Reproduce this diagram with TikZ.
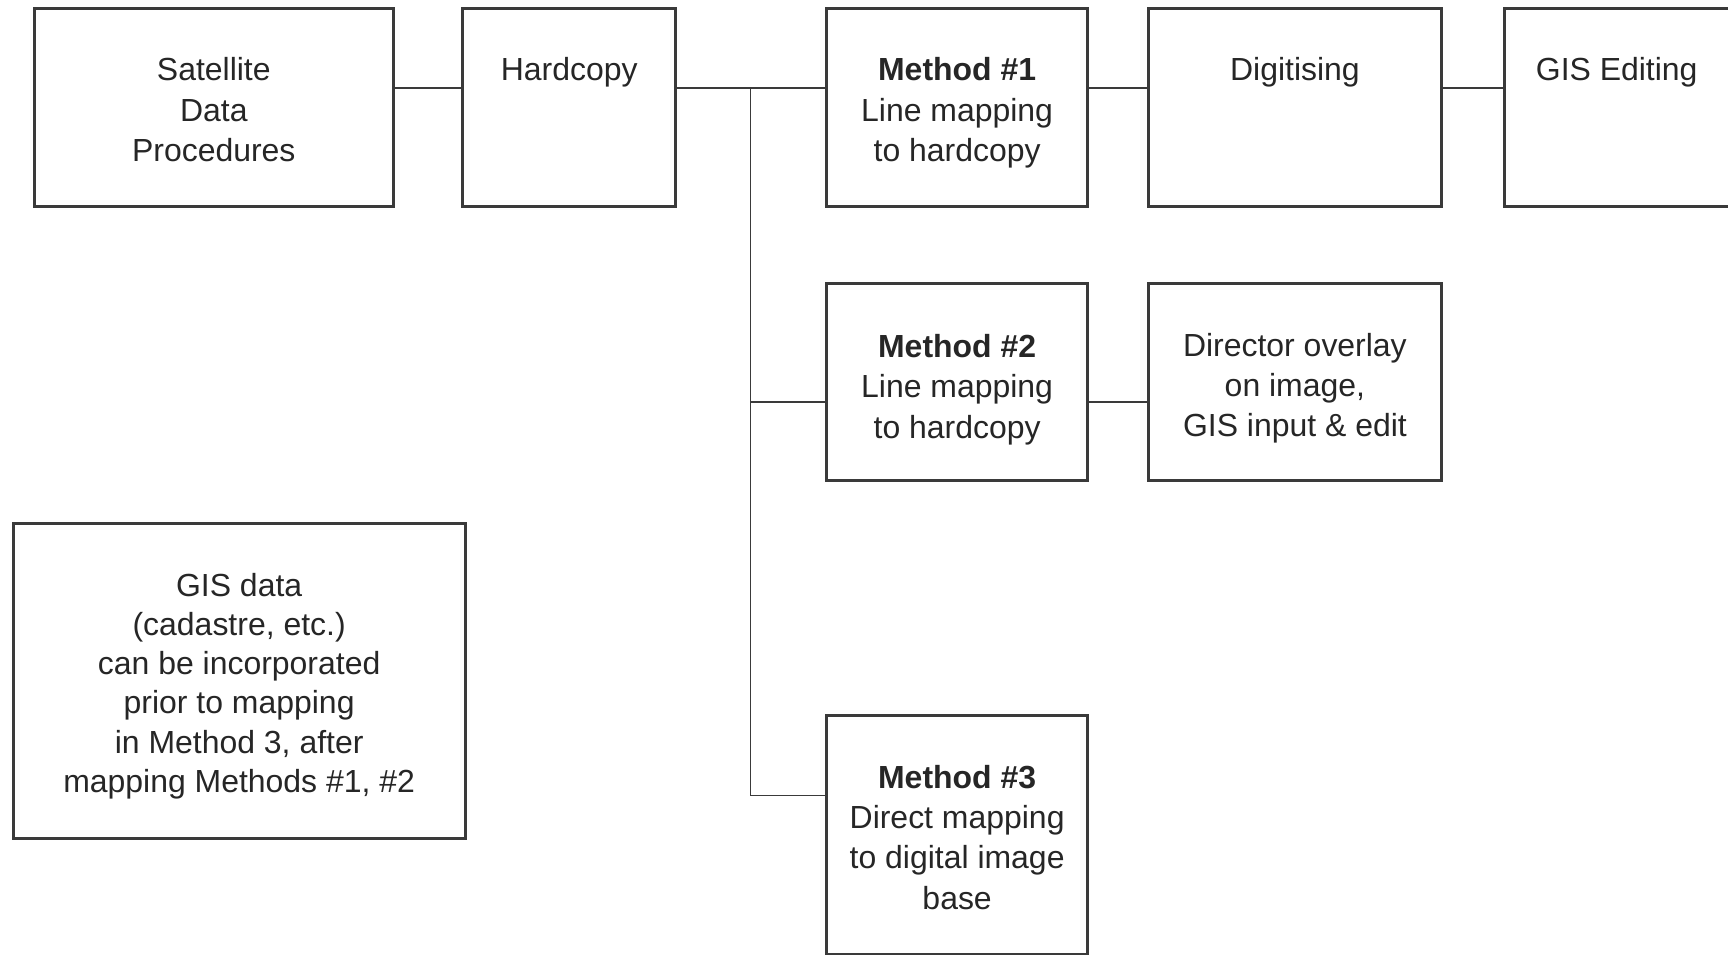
\documentclass[tikz,border=0pt]{standalone}
\usepackage{fontspec}
\setmainfont{Liberation Sans}
\definecolor{inkgray}{HTML}{3A3A3A}
\definecolor{textgray}{HTML}{262626}
\begin{document}
\begin{tikzpicture}[x=0.2mm, y=-0.2mm, line join=miter,
	box/.style={draw=inkgray, line width=1.5pt, minimum height=35.8mm, inner sep=0pt, outer sep=0pt},
	txt/.style={anchor=north, align=center, inner sep=0pt, text=textgray, font=\fontsize{16.5}{20.8}\selectfont},
	link/.style={draw=inkgray, line width=0.8pt}]
	
	\useasboundingbox (0,0) rectangle (1568,866);
	
	% Top row
	\node[box, minimum width=65.2mm] (sat) at (194, 97.5) {};
	\node[box, minimum width=38.6mm] (hard) at (516.5, 97.5) {};
	\node[box, minimum width=47.4mm] (m1) at (868.5, 97.5) {};
	\node[box, minimum width=53.2mm] (dig) at (1175, 97.5) {};
	\node[box, minimum width=40.8mm] (gised) at (1467, 97.5) {};
	\node[txt] (sattxt) at ([yshift=-8.8mm]sat.north) {Satellite\\Data\\Procedures};
	\node[txt] (hardtxt) at ([yshift=-8.8mm]hard.north) {Hardcopy};
	\node[txt] (m1txt) at ([yshift=-8.8mm]m1.north) {\textbf{Method \#1}\\Line mapping\\to hardcopy};
	\node[txt] (digtxt) at ([yshift=-8.8mm]dig.north) {Digitising};
	\node[txt] (gisedtxt) at ([yshift=-8.8mm]gised.north) {GIS Editing};
	
	% Method 2 row
	\node[box, minimum width=47.4mm] (m2) at (868.5, 346.5) {};
	\node[box, minimum width=53.2mm] (dir) at (1175, 346.5) {};
	\node[txt] (m2txt) at ([yshift=-9.2mm]m2.north) {\textbf{Method \#2}\\Line mapping\\to hardcopy};
	\node[txt] (dirtxt) at ([yshift=-9.0mm]dir.north) {Director overlay\\on image,\\GIS input \& edit};
	
	% Method 3 and GIS data
	\node[box, minimum width=47.4mm, minimum height=43.4mm] (m3) at (868.5, 757.5) {};
	\node[txt] (m3txt) at ([yshift=-9.0mm]m3.north) {\textbf{Method \#3}\\Direct mapping\\to digital image\\base};
	\node[box, minimum width=82mm, minimum height=57.2mm] (gisdata) at (217, 618) {};
	\node[txt, font=\fontsize{16.5}{20.2}\selectfont] (gisdatatxt) at ([yshift=-9.0mm]gisdata.north) {GIS data\\(cadastre, etc.)\\can be incorporated\\prior to mapping\\in Method 3, after\\mapping Methods \#1, \#2};
	
	% Connectors
	\coordinate (top) at (681, 80);
	\coordinate (mid) at (681, 365);
	\coordinate (low) at (681, 722);
	\draw[link] (sat.east |- top) -- (hard.west |- top);
	\draw[link] (hard.east |- top) -- (m1.west |- top);
	\draw[link] (top) -- (low) -- (m3.west |- low);
	\draw[link] (mid) -- (m2.west |- mid);
	\draw[link] (m1.east |- top) -- (dig.west |- top);
	\draw[link] (dig.east |- top) -- (gised.west |- top);
	\draw[link] (m2.east |- mid) -- (dir.west |- mid);
\end{tikzpicture}
\end{document}
